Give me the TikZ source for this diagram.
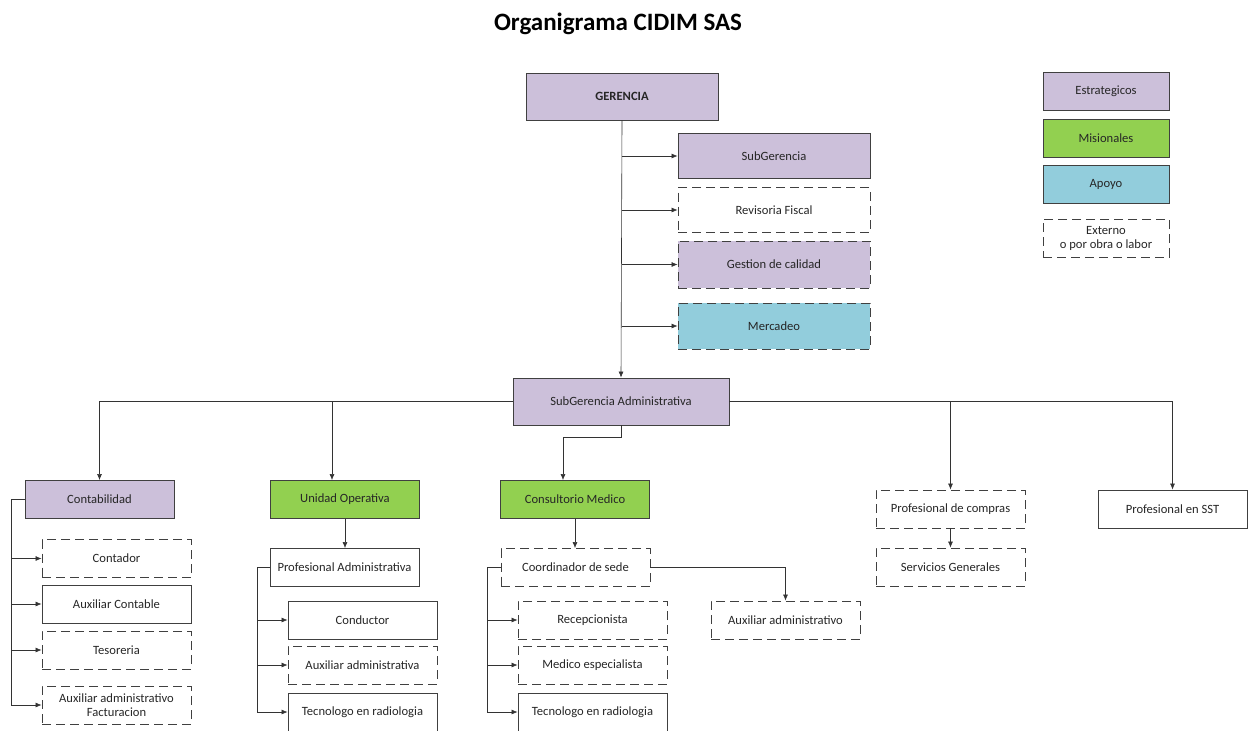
\documentclass[tikz,border=0pt]{standalone}
\usepackage{fontspec}
\setmainfont{Carlito}
\usetikzlibrary{arrows.meta}
\definecolor{estrat}{HTML}{CCC0DA}
\definecolor{misio}{HTML}{92D050}
\definecolor{apoyo}{HTML}{92CDDC}
\definecolor{borde}{HTML}{404040}
\definecolor{texto}{HTML}{262626}
\begin{document}
\begin{tikzpicture}[x=1pt,y=-1pt,
    caja/.style={draw=borde, line width=0.9pt, minimum width=149pt, minimum height=38pt,
      inner sep=2pt, text=texto, font=\fontsize{12.6}{14}\selectfont, align=center},
    externo/.style={caja, dash pattern=on 9pt off 5pt},
    enlace/.style={draw=black!80, line width=0.6pt},
    flecha/.style={enlace, -{Latex[length=6pt,width=5pt]}}]
    \useasboundingbox (0,0) rectangle (1256,731);

    % Title
    \node (titulo) at (618,24) {\fontsize{25}{29}\selectfont\bfseries Organigrama CIDIM SAS};

    % Top level
    \node[caja, fill=estrat, minimum width=192pt, minimum height=47pt] (ger) at (622,96.5) {\bfseries GERENCIA};
    \node[caja, fill=estrat, minimum width=192pt, minimum height=45pt] (subg) at (774,156) {SubGerencia};
    \node[externo, minimum width=192pt, minimum height=45pt] (revisoria) at (774,210) {Revisoria Fiscal};
    \node[externo, fill=estrat, minimum width=192pt, minimum height=47pt] (calidad) at (774,264.5) {Gestion de calidad};
    \node[externo, fill=apoyo, minimum width=192pt, minimum height=46pt] (mercadeo) at (774,326) {Mercadeo};
    \node[caja, fill=estrat, minimum width=216pt, minimum height=47pt] (subadm) at (621,401.5) {SubGerencia Administrativa};

    % Legend
    \node[caja, fill=estrat, minimum width=126pt] (leyest) at (1106,91.5) {Estrategicos};
    \node[caja, fill=misio, minimum width=126pt] (leymis) at (1106,138) {Misionales};
    \node[caja, fill=apoyo, minimum width=126pt] (leyapo) at (1106,184) {Apoyo};
    \node[externo, minimum width=126pt] (leyext) at (1106,238) {Externo\\o por obra o labor};

    % Trunk and staff branches
    \draw[flecha] (ger.south) -- (subadm.north);
    \draw[flecha] (ger.south |- subg.west) -- (subg.west);
    \draw[flecha] (ger.south |- revisoria.west) -- (revisoria.west);
    \draw[flecha] (ger.south |- calidad.west) -- (calidad.west);
    \draw[flecha] (ger.south |- mercadeo.west) -- (mercadeo.west);

    % Second level
    \node[caja, fill=estrat] (conta) at (99.5,499.5) {Contabilidad};
    \node[caja, fill=misio] (unidad) at (345,499.5) {Unidad Operativa};
    \node[caja, fill=misio] (consul) at (575,499.5) {Consultorio Medico};
    \node[externo] (compras) at (950.5,509) {Profesional de compras};
    \node[caja] (sst) at (1172.5,509) {Profesional en SST};

    \draw[flecha] (subadm.west) -| (conta.north);
    \draw[flecha] (subadm.west) -| ([xshift=-13pt]unidad.north);
    \draw[flecha] (subadm.south) -- ++(0,12) -| ([xshift=-12pt]consul.north);
    \draw[flecha] (subadm.east) -| (compras.north);
    \draw[flecha] (subadm.east) -| (sst.north);

    % Contabilidad
    \node[externo] (contador) at (116.5,558.5) {Contador};
    \node[caja] (auxcont) at (116.5,604) {Auxiliar Contable};
    \node[externo] (tesoreria) at (116.5,650) {Tesoreria};
    \node[externo] (auxfact) at (116.5,705) {Auxiliar administrativo\\Facturacion};
    \foreach \hijo in {contador,auxcont,tesoreria,auxfact}
        \draw[flecha] (conta.west) -- ++(-13,0) |- (\hijo.west);

    % Unidad Operativa
    \node[caja] (profadm) at (344.5,567.5) {Profesional Administrativa};
    \node[caja] (conductor) at (362.5,620) {Conductor};
    \node[externo] (auxadma) at (362.5,665) {Auxiliar administrativa};
    \node[caja] (tecuno) at (362.5,712) {Tecnologo en radiologia};
    \draw[flecha] (unidad.south) -- (unidad.south |- profadm.north);
    \foreach \hijo in {conductor,auxadma,tecuno}
        \draw[flecha] (profadm.west) -- ++(-12,0) |- (\hijo.west);

    % Consultorio Medico
    \node[externo] (coord) at (575.5,567.5) {Coordinador de sede};
    \node[externo] (recep) at (592.5,620) {Recepcionista};
    \node[externo] (medesp) at (592.5,665) {Medico especialista};
    \node[caja] (tecdos) at (592.5,712) {Tecnologo en radiologia};
    \node[externo] (auxadmo) at (785.5,620) {Auxiliar administrativo};
    \draw[flecha] (consul.south) -- (consul.south |- coord.north);
    \foreach \hijo in {recep,medesp,tecdos}
        \draw[flecha] (coord.west) -- ++(-13,0) |- (\hijo.west);
    \draw[flecha] (coord.east) -| (auxadmo.north);

    % Compras
    \node[externo] (servicios) at (950.5,567) {Servicios Generales};
    \draw[flecha] (compras.south) -- (servicios.north);
\end{tikzpicture}
\end{document}
